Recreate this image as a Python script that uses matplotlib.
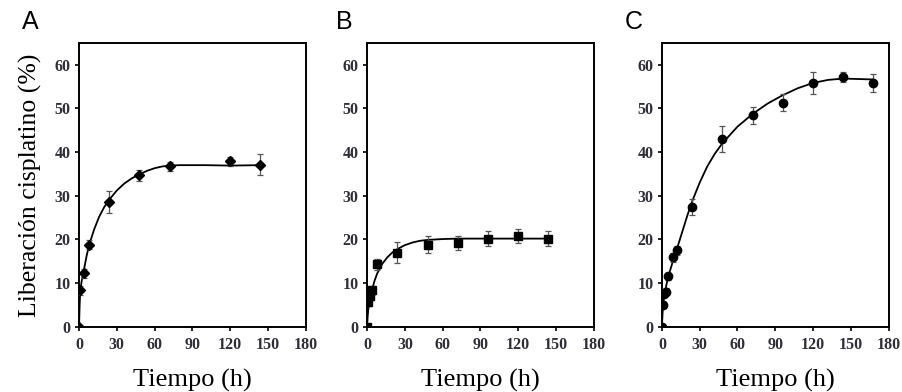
import numpy as np
import matplotlib.pyplot as plt

# Panel A (diamonds)
a_t = [0, 1, 4, 8, 24, 48, 72, 120, 144]
a_val = [0, 8.4, 12.3, 18.8, 28.6, 34.7, 36.7, 37.9, 37.1]
a_err = [0, 1.0, 1.0, 1.0, 2.6, 1.3, 1.0, 1.0, 2.4]
a_fit_t = [0, 0.5, 1, 2, 4, 6, 8, 12, 16, 20, 24, 30, 36, 42, 48, 54, 60, 66, 72, 80, 90, 100, 120, 144]
a_fit_v = [0, 5.0, 8.2, 10.3, 13.2, 16.2, 18.7, 22.3, 25.2, 27.4, 29.1, 31.2, 32.8, 34.0, 34.9, 35.7, 36.3, 36.7, 36.9, 37.0, 37.0, 37.0, 36.9, 37.0]

# Panel B (squares)
b_t = [0, 1, 2, 4, 8, 24, 48, 72, 96, 120, 144]
b_val = [0, 5.6, 7.0, 8.4, 14.3, 17.0, 18.8, 19.3, 20.2, 20.8, 20.2]
b_err = [0, 0.8, 0.8, 1.0, 1.3, 2.4, 1.9, 1.6, 1.8, 1.7, 1.8]
b_fit_t = [0, 0.5, 1, 2, 4, 6, 8, 12, 16, 20, 24, 30, 36, 42, 48, 60, 72, 96, 120, 144]
b_fit_v = [0, 2.5, 4.0, 6.0, 8.6, 10.6, 12.2, 14.4, 15.9, 17.0, 17.8, 18.7, 19.3, 19.7, 19.9, 20.1, 20.2, 20.2, 20.2, 20.2]

# Panel C (circles)
c_t = [0, 1, 2, 3, 5, 9, 12, 24, 48, 72, 96, 120, 144, 168]
c_val = [0, 5.1, 7.6, 8.0, 11.6, 15.9, 17.5, 27.4, 43.0, 48.4, 51.3, 55.7, 57.2, 55.8]
c_err = [0, 0.8, 0.8, 0.8, 0.8, 1.0, 1.0, 1.9, 3.0, 2.0, 2.0, 2.5, 1.1, 2.1]
c_fit_t = [0, 0.5, 1, 2, 4, 6, 9, 12, 16, 20, 24, 30, 36, 42, 48, 60, 72, 84, 96, 108, 120, 132, 144, 156, 168]
c_fit_v = [0, 3.0, 5.0, 7.4, 10.2, 12.4, 15.3, 17.9, 21.6, 25.3, 28.7, 33.0, 36.7, 39.6, 42.0, 45.8, 48.7, 51.1, 53.0, 54.6, 55.8, 56.5, 56.8, 56.7, 56.6]

xticks = [0, 30, 60, 90, 120, 150, 180]
yticks = [0, 10, 20, 30, 40, 50, 60]

panels = [
    ("A", a_t, a_val, a_err, a_fit_t, a_fit_v, "D", 0.0875),
    ("B", b_t, b_val, b_err, b_fit_t, b_fit_v, "s", 0.4065),
    ("C", c_t, c_val, c_err, c_fit_t, c_fit_v, "o", 0.733),
]

fig = plt.figure(figsize=(9.03, 3.92), dpi=100)
serif = "Liberation Serif"

for letter, t, v, e, ft, fv, mk, left in panels:
    ax = fig.add_axes([left, 0.166, 0.251, 0.725])
    ax.plot(ft, fv, color="black", lw=1.3, zorder=2)
    ax.errorbar(t, v, yerr=e, fmt="none", ecolor="#555555", elinewidth=0.9,
                capsize=2.5, capthick=0.9, zorder=3)
    ax.plot(t, v, mk, color="black", ms=6 if mk != "D" else 5.5, zorder=4)
    ax.set_xlim(0, 180)
    ax.set_ylim(0, 65)
    ax.set_xticks(xticks)
    ax.set_yticks(yticks)
    ax.tick_params(direction="out", length=3, width=1.2, top=False, right=False,
                   labelsize=11.5, pad=3, labelcolor="#2e2e38")
    ax.tick_params(axis="x", pad=4)
    for lab in ax.get_xticklabels() + ax.get_yticklabels():
        lab.set_fontfamily(serif)
        lab.set_fontweight("bold")
    for sp in ax.spines.values():
        sp.set_linewidth(1.4)
    ax.set_xlabel("Tiempo (h)", fontsize=19, family=serif, labelpad=12)
    if letter == "A":
        ax.set_ylabel("Liberación cisplatino (%)", fontsize=18.5, family=serif, labelpad=9)
    ax.text(-0.25 if letter == "A" else -0.135 if letter == "B" else -0.165, 1.03, letter,
            transform=ax.transAxes, fontsize=18, family="Liberation Sans",
            ha="left", va="bottom")

fig.savefig("out.png", dpi=100)
